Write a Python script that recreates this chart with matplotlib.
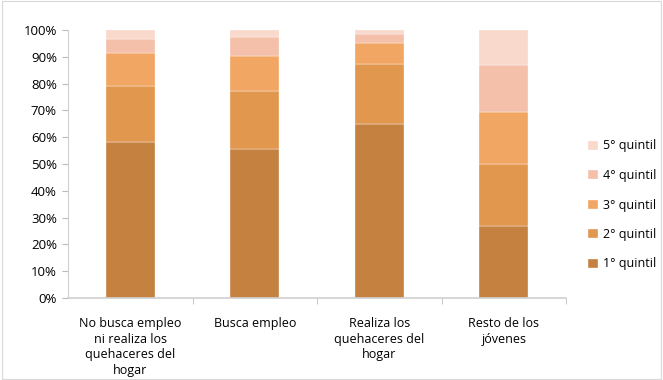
import matplotlib.pyplot as plt
from matplotlib.patches import Rectangle
import numpy as np

categories = ['No busca empleo\nni realiza los\nquehaceres del\nhogar', 'Busca empleo',
              'Realiza los\nquehaceres del\nhogar', 'Resto de los\njóvenes']
q1 = [58.3, 55.5, 64.8, 27.0]
q2 = [20.9, 21.9, 22.6, 23.0]
q3 = [12.2, 13.0, 7.9, 19.5]
q4 = [5.2, 7.1, 3.3, 17.6]
q5 = [3.4, 2.5, 1.4, 12.9]
series = [q1, q2, q3, q4, q5]
labels = ['1° quintil', '2° quintil', '3° quintil', '4° quintil', '5° quintil']
colors = ['#C4813F', '#E1974E', '#F1A663', '#F4C0AA', '#F8D9CB']

plt.rcParams['font.family'] = ['Open Sans', 'DejaVu Sans']

fig = plt.figure(figsize=(6.63, 3.80), dpi=100)
ax = fig.add_axes([68 / 663, 1 - 298 / 380, (566 - 68) / 663, (298 - 30) / 380])

x = np.arange(len(categories))
bottom = np.zeros(len(categories))
handles = []
for vals, lab, col in zip(series, labels, colors):
    b = ax.bar(x, vals, width=0.39, bottom=bottom, color=col, label=lab,
               edgecolor='white', linewidth=0.25)
    handles.append(b)
    bottom += np.array(vals)

ax.set_xlim(-0.5, 3.5)
ax.set_ylim(0, 100)
ax.set_yticks(np.arange(0, 101, 10))
ax.set_yticklabels([f'{v}%' for v in range(0, 101, 10)], fontsize=9.5)
ax.set_xticks(x)
ax.set_xticklabels(categories, fontsize=9, linespacing=1.25)
ax.tick_params(axis='x', which='major', length=0, pad=14)
ax.set_xticks(np.arange(0.5, 3.6, 1), minor=True)
ax.tick_params(axis='x', which='minor', length=4, color='#BBBBBB', direction='out')
ax.tick_params(axis='y', length=4, color='#BBBBBB', pad=4)
for s in ['top', 'right']:
    ax.spines[s].set_visible(False)
ax.spines['left'].set_color('#D0D0D0')
ax.spines['bottom'].set_color('#D0D0D0')
ax.spines['bottom'].set_linewidth(1.2)

fig.legend(handles[::-1], labels[::-1], loc='center left', bbox_to_anchor=(577 / 663, 1 - 205 / 380),
           frameon=False, fontsize=9, handlelength=0.75, handleheight=0.75,
           labelspacing=1.32, handletextpad=0.45)

fig.patches.append(Rectangle((0.003, 0.003), 0.994, 0.994, transform=fig.transFigure,
                             fill=False, edgecolor='#D9D9D9', linewidth=0.8))

fig.savefig('out.png', dpi=100)
